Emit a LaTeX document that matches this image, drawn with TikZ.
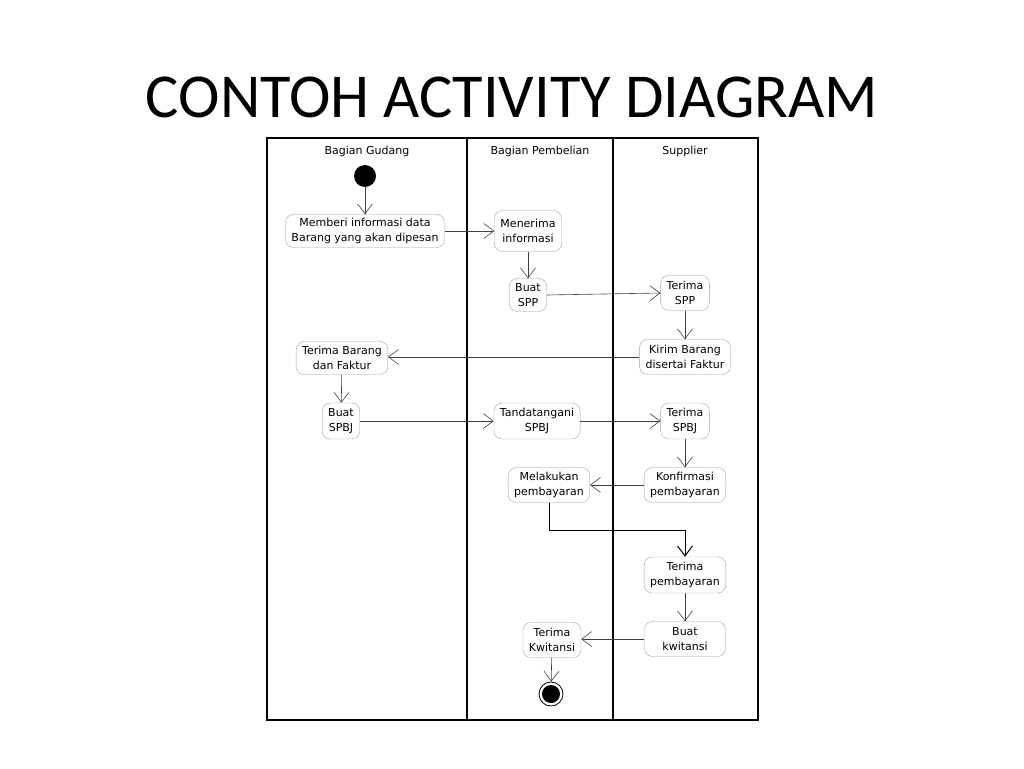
\documentclass[tikz,border=0pt]{standalone}
\usepackage{fontspec}
\setmainfont{DejaVu Sans}
\newfontfamily\titlefont{Carlito}
\usepackage{tikz}
\usetikzlibrary{arrows.meta}

\definecolor{lineGray}{HTML}{404040}
\definecolor{boxGray}{HTML}{A0A0A0}

\tikzset{
    act/.style={draw=boxGray, rounded corners=8pt, fill=white, align=center, inner xsep=6pt, inner ysep=2pt, minimum height=33pt, font=\fontsize{11}{15}\selectfont},
    flow/.style={draw=lineGray, -{Straight Barb[length=10pt, width=15pt]}, line width=0.6pt},
    lane/.style={draw=black, line width=1.2pt},
    lanehead/.style={font=\fontsize{11}{12}\selectfont}
}

\begin{document}
\begin{tikzpicture}[x=1pt, y=-1pt]
    \useasboundingbox (0,0) rectangle (1024,768);

    % Title
    \node[font=\titlefont\fontsize{62.5}{64}\selectfont] (title) at (512,97) {CONTOH ACTIVITY DIAGRAM};

    % Frames
    \draw[lane] (267,138) rectangle (758,720);
    \draw[lane] (467,138) -- (467,720);
    \draw[lane] (613,138) -- (613,720);
    \node[lanehead] (hGudang) at (367,151) {Bagian Gudang};
    \node[lanehead] (hBeli) at (540,151) {Bagian Pembelian};
    \node[lanehead] (hSupp) at (685,151) {Supplier};

    % Start and end
    \node[circle, fill=black, minimum size=22pt, inner sep=0pt] (start) at (365,176) {};
    \node[circle, draw=black, line width=0.8pt, minimum size=24pt, inner sep=0pt] (stop) at (551,694) {};
    \node[circle, fill=black, minimum size=18pt, inner sep=0pt] (stopIn) at (551,694) {};

    % Bagian Gudang
    \node[act] (memberi) at (365,231) {Memberi informasi data\\Barang yang akan dipesan};
    \node[act] (terimaBrg) at (342,358) {Terima Barang\\dan Faktur};
    \node[act, minimum height=36pt] (buatSPBJ) at (341,421) {Buat\\SPBJ};

    % Bagian Pembelian
    \node[act, minimum height=41pt] (menerima) at (528,231) {Menerima\\informasi};
    \node[act] (buatSPP) at (528,295) {Buat\\SPP};
    \node[act, minimum height=36pt] (ttdSPBJ) at (537,421) {Tandatangani\\SPBJ};
    \node[act, minimum height=35pt] (bayar) at (549,485) {Melakukan\\pembayaran};
    \node[act, minimum height=35pt] (terimaKw) at (552,640) {Terima\\Kwitansi};

    % Supplier
    \node[act, minimum height=35pt] (terimaSPP) at (685,293) {Terima\\SPP};
    \node[act, minimum height=35pt] (kirim) at (685,357) {Kirim Barang\\disertai Faktur};
    \node[act, minimum height=36pt] (terimaSPBJ) at (685,421) {Terima\\SPBJ};
    \node[act, minimum height=35pt] (konfirm) at (685,485) {Konfirmasi\\pembayaran};
    \node[act, minimum height=36pt] (terimaByr) at (685,575) {Terima\\pembayaran};
    \node[act, minimum height=35pt, minimum width=81pt] (buatKw) at (685,639) {Buat\\kwitansi};

    % Flows
    \draw[flow] (start) -- (memberi);
    \draw[flow] (memberi) -- (menerima);
    \draw[flow] (menerima) -- (buatSPP);
    \draw[flow] (buatSPP.east) -- (terimaSPP.west);
    \draw[flow] (terimaSPP) -- (kirim);
    \draw[flow] (kirim.west) -- (terimaBrg.east |- kirim.west);
    \draw[flow] (terimaBrg) -- (buatSPBJ);
    \draw[flow] (buatSPBJ) -- (ttdSPBJ);
    \draw[flow] (ttdSPBJ) -- (terimaSPBJ);
    \draw[flow] (terimaSPBJ) -- (konfirm);
    \draw[flow] (konfirm) -- (bayar);
    \draw[flow, draw=black, line width=1pt] (bayar.south) -- ++(0,28) -| (terimaByr.north);
    \draw[flow] (terimaByr) -- (buatKw);
    \draw[flow] (buatKw.west) -- (terimaKw.east |- buatKw.west);
    \draw[flow] (terimaKw) -- (stop);
\end{tikzpicture}
\end{document}
